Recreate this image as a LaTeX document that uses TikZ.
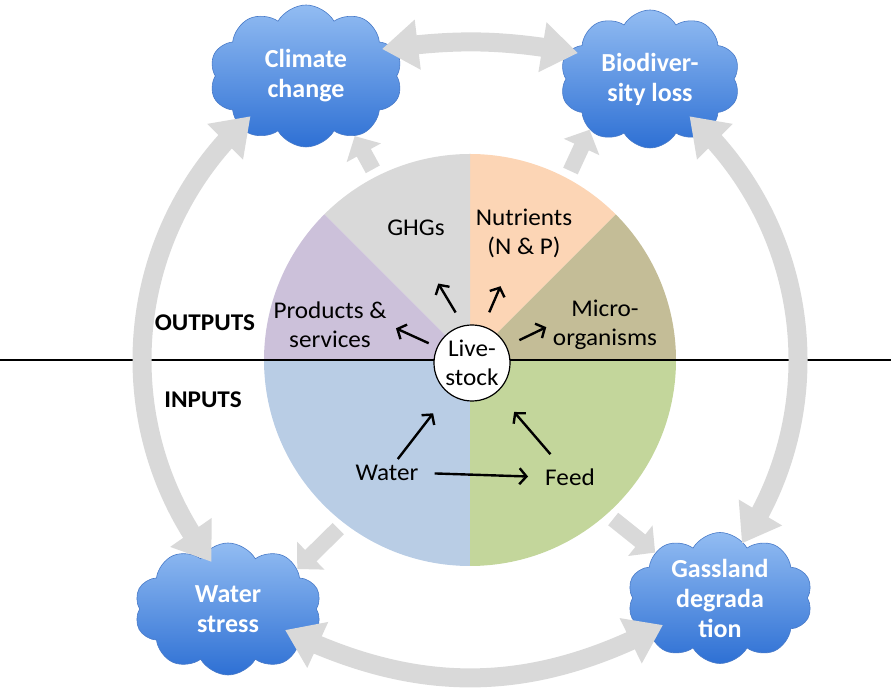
\documentclass[tikz,border=0pt]{standalone}
\usepackage{fontspec}
\setmainfont{Carlito}[FakeStretch=1.05]
\newfontfamily\cloudfont{Carlito}
\usepackage{tikz}
\usetikzlibrary{shapes.symbols,arrows.meta,bending}
\definecolor{cloudtop}{RGB}{146,188,242}
\definecolor{cloudbot}{RGB}{46,112,212}
\definecolor{cloudline}{RGB}{72,122,200}
\definecolor{flow}{RGB}{217,217,217}
\definecolor{prodcol}{RGB}{204,193,218}
\definecolor{ghgcol}{RGB}{217,217,217}
\definecolor{nutcol}{RGB}{252,213,181}
\definecolor{microcol}{RGB}{196,189,151}
\definecolor{watercol}{RGB}{185,205,229}
\definecolor{feedcol}{RGB}{195,214,155}
\tikzset{
  cloudbox/.style={cloud, cloud puffs=10, cloud puff arc=120, cloud ignores aspect, inner sep=0pt,
    top color=cloudtop, bottom color=cloudbot, draw=cloudline, line width=0.6pt,
    font=\cloudfont\bfseries\fontsize{26}{30}\selectfont, text=white, align=center},
  bigflow/.style={draw=flow, line width=19pt, {Triangle[width=48pt,length=36pt]}-{Triangle[width=48pt,length=36pt]}},
  smallflow/.style={draw=flow, line width=16pt, -{Triangle[width=38pt,length=19pt]}},
  arr/.style={line width=2.4pt, -{Straight Barb[length=7pt,width=16pt]}},
  txt/.style={font=\fontsize{24}{29}\selectfont, align=center, inner sep=2pt},
  side/.style={font=\bfseries\fontsize{24}{26}\selectfont}
}
\begin{document}
\begin{tikzpicture}[x=1pt,y=1pt]
  \useasboundingbox (0,0) rectangle (891,695);
  \coordinate (c) at (470,335);
  % pie of inputs and outputs
  \foreach \a/\b/\col in {0/45/microcol,45/90/nutcol,90/135/ghgcol,135/180/prodcol,180/270/watercol,270/360/feedcol}
    \fill[\col] (c) -- ++(\a:206pt) arc[start angle=\a, end angle=\b, radius=206pt] -- cycle;
  \draw[line width=2pt] (0,335) -- (891,335);
  \node[circle, draw, fill=white, line width=1.2pt, minimum size=76pt, inner sep=0pt, txt] (ls) at (472,332) {Live-\\stock};
  \node[side] (outl) at (205,372) {OUTPUTS};
  \node[side] (inl) at (203,295) {INPUTS};
  \node[txt] (ghg) at (416,467) {GHGs};
  \node[txt] (nut) at (524,462) {Nutrients\\(N \& P)};
  \node[txt] (prod) at (330,370) {Products \&\\services};
  \node[txt] (micro) at (605,370) {Micro-\\organisms};
  \node[txt] (water) at (387,222) {Water};
  \node[txt] (feed) at (570,218) {Feed};
  \draw[arr, shorten <=9pt, shorten >=8pt] (ls) -- (prod.east);
  \draw[arr, shorten <=15pt, shorten >=53pt] (ls.103) -- ([xshift=-5pt]ghg.south);
  \draw[arr, shorten <=15pt, shorten >=29pt] (ls.73) -- ([xshift=-12pt]nut.south);
  \draw[arr, shorten <=14pt, shorten >=5pt] (ls) -- (micro.west);
  \draw[arr, shorten <=5pt, shorten >=25pt] (water) -- (ls);
  \draw[arr, shorten <=16pt, shorten >=26pt] (feed) -- (ls);
  \draw[arr, shorten <=14pt, shorten >=15pt] (water.east) -- (feed.west);
  % impacts
  \node[cloudbox, minimum width=193pt, minimum height=142pt] (clim) at (306,619) {Climate\\change};
  \node[cloudbox, minimum width=180pt, minimum height=138pt] (bio) at (650,616) {Biodiver-\\sity loss};
  \node[cloudbox, minimum width=187pt, minimum height=132pt] (ws) at (228,86) {Water\\stress};
  \node[cloudbox, minimum width=185pt, minimum height=131pt] (gd) at (720,97) {Gassland\\degrada\\tion};
  \draw[smallflow] (c) ++(117:214pt) -- (clim.309);
  \draw[smallflow] (c) ++(62:214pt) -- (bio.220);
  \draw[smallflow] (c) ++(232:214pt) -- (ws.30);
  \draw[smallflow] (c) ++(312:214pt) -- (gd.145);
  % links between impacts
  \coordinate (clim-e) at (382,646);
  \coordinate (bio-w) at (578,642);
  \coordinate (ws-e) at (285,65);
  \coordinate (gd-w) at (663,70);
  \draw[bigflow] (clim-e) to[bend left=9] (bio-w);
  \draw[bigflow] (ws-e) to[bend right=27] (gd-w);
  \draw[bigflow] (c) ++(132:328pt) arc[start angle=132, end angle=218, radius=328pt];
  \draw[bigflow] (c) ++(48:328pt) arc[start angle=48, end angle=-34, radius=328pt];
\end{tikzpicture}
\end{document}
